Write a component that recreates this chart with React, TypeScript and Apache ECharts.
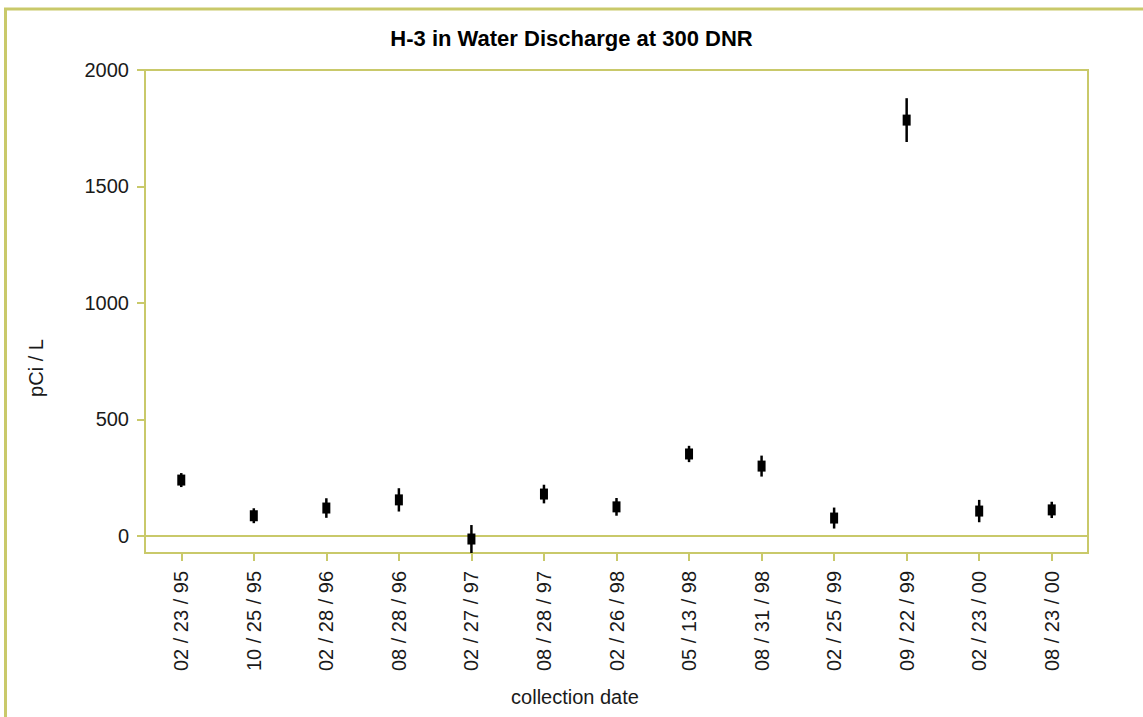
import React, { useEffect, useRef } from "react";
import * as echarts from "echarts";

const titleText = "H-3 in Water Discharge at 300 DNR";
const xAxisName = "collection date";
const yAxisName = "pCi / L";
const dates = [
  "02 / 23 / 95",
  "10 / 25 / 95",
  "02 / 28 / 96",
  "08 / 28 / 96",
  "02 / 27 / 97",
  "08 / 28 / 97",
  "02 / 26 / 98",
  "05 / 13 / 98",
  "08 / 31 / 98",
  "02 / 25 / 99",
  "09 / 22 / 99",
  "02 / 23 / 00",
  "08 / 23 / 00",
];
const values = [240, 87, 120, 155, -13, 180, 125, 352, 300, 77, 1785, 107, 112];
const errors = [30, 32, 42, 50, 60, 40, 38, 35, 45, 45, 94, 48, 35];
const yTicks = [0, 500, 1000, 1500, 2000];

const OLIVE = "#c9c96a";
const TEXT = "#1a1a1a";
const FONT = "Arial, 'Liberation Sans', sans-serif";

export default function App() {
  const ref = useRef<HTMLDivElement>(null);
  useEffect(() => {
    if (!ref.current) return;
    const chart = echarts.init(ref.current, null, { renderer: "svg" });
    const data = values.map((v, i) => [i, v, errors[i]]);
    chart.setOption({
      animation: false,
      backgroundColor: "#ffffff",
      title: {
        text: titleText,
        left: "center",
        top: 22,
        textStyle: { fontFamily: FONT, fontSize: 22, fontWeight: "bold", color: "#000" },
      },
      grid: {
        left: 145,
        top: 70,
        right: 55,
        bottom: 164,
        show: true,
        borderColor: OLIVE,
        borderWidth: 2,
        backgroundColor: "#ffffff",
      },
      xAxis: {
        type: "category",
        data: dates,
        boundaryGap: true,
        axisLine: { show: true, onZero: false, lineStyle: { color: OLIVE, width: 2 } },
        axisTick: { show: true, alignWithLabel: true, length: 8, lineStyle: { color: OLIVE, width: 2 } },
        axisLabel: {
          rotate: 90,
          margin: 18,
          fontFamily: FONT,
          fontSize: 20,
          color: TEXT,
          interval: 0,
        },
        splitLine: { show: false },
      },
      yAxis: {
        type: "value",
        min: -73,
        max: 2000,
        axisLine: { show: true, lineStyle: { color: OLIVE, width: 2 } },
        axisTick: { show: true, length: 8, customValues: yTicks, lineStyle: { color: OLIVE, width: 2 } },
        axisLabel: {
          customValues: yTicks,
          formatter: (v: number) => String(v),
          margin: 16,
          fontFamily: FONT,
          fontSize: 20,
          color: TEXT,
        },
        splitLine: { show: false },
      },
      graphic: [
        {
          type: "rect",
          shape: { x: 5.5, y: 9, width: 1300, height: 900 },
          style: { fill: "none", stroke: OLIVE, lineWidth: 3 },
          silent: true,
          z: 0,
        },
        {
          type: "text",
          x: 575,
          y: 697,
          style: {
            text: xAxisName,
            fontFamily: FONT,
            fontSize: 20,
            fill: TEXT,
            textAlign: "center",
            textVerticalAlign: "middle",
          },
        },
        {
          type: "text",
          x: 36,
          y: 368,
          rotation: Math.PI / 2,
          style: {
            text: yAxisName,
            fontFamily: FONT,
            fontSize: 20,
            fill: TEXT,
            textAlign: "center",
            textVerticalAlign: "middle",
          },
        },
      ],
      series: [
        {
          type: "custom",
          data,
          encode: { x: 0, y: 1 },
          clip: true,
          renderItem: (params: any, api: any) => {
            const i = api.value(0);
            const v = api.value(1);
            const e = api.value(2);
            const top = api.coord([i, v + e]);
            const bot = api.coord([i, v - e]);
            const c = api.coord([i, v]);
            return {
              type: "group",
              children: [
                {
                  type: "line",
                  shape: { x1: c[0], y1: top[1], x2: c[0], y2: bot[1] },
                  style: { stroke: "#000", lineWidth: 2.5 },
                },
                {
                  type: "rect",
                  shape: { x: c[0] - 4, y: c[1] - 5.5, width: 8, height: 11 },
                  style: { fill: "#000" },
                },
              ],
            };
          },
          markLine: {
            silent: true,
            symbol: "none",
            label: { show: false },
            lineStyle: { color: OLIVE, width: 2, type: "solid" },
            data: [{ yAxis: 0 }],
          },
          z: 5,
        },
      ],
    });
    return () => chart.dispose();
  }, []);
  return (
    <div
      ref={ref}
      style={{ position: "fixed", left: 0, top: 0, width: 1143, height: 717 }}
    />
  );
}
